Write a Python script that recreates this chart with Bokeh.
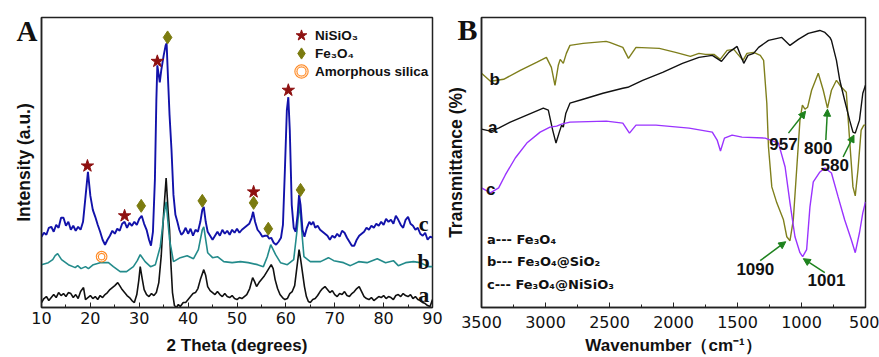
from bokeh.plotting import figure
from bokeh.layouts import row
from bokeh.models import (Range1d, SingleIntervalTicker, FixedTicker, Label, Legend,
                          LegendItem, Arrow, NormalHead)
from bokeh.embed import file_html
from bokeh.resources import INLINE

# ---------------- Panel A : XRD (2 theta, intensity a.u.) ----------------
xrd_c = [(10, 74), (10.5, 78), (11, 76), (11.5, 83), (12, 84), (12.5, 79), (13, 86), (13.5, 83),
         (14, 93), (14.5, 93), (15, 85), (15.5, 89), (16, 81), (16.5, 85), (17, 80), (17.5, 84),
         (18, 81), (18.5, 89), (19, 114), (19.5, 139), (20, 115), (20.5, 101), (21, 94), (21.5, 86),
         (22, 79), (22.5, 71), (23, 66), (23.5, 71), (24, 75), (24.5, 80), (25, 77), (25.5, 82),
         (26, 80), (26.5, 87), (27, 89), (27.5, 83), (28, 88), (28.5, 85), (29, 89), (29.5, 86),
         (30, 92), (30.5, 95), (31, 87), (31.5, 81), (32, 71), (32.4, 65), (32.8, 79), (33.2, 131),
         (33.5, 211), (33.7, 246), (34.0, 236), (34.2, 229), (34.5, 241), (35.0, 256), (35.4, 266),
         (35.6, 268), (35.9, 231), (36.2, 196), (36.6, 161), (37.0, 116), (37.4, 96), (37.8, 89),
         (38.2, 81), (38.6, 76), (39.0, 78), (39.5, 83), (40.0, 77), (40.5, 82), (41.0, 75),
         (41.5, 81), (42.0, 79), (42.5, 89), (42.9, 101), (43.2, 104), (43.6, 89), (44.0, 79),
         (44.5, 75), (45.0, 71), (45.5, 75), (46.0, 79), (46.5, 75), (47.0, 81), (47.5, 77),
         (48.0, 80), (48.5, 76), (49.0, 81), (49.5, 78), (50.0, 82), (50.5, 78), (51.0, 81),
         (51.5, 83), (52.0, 85), (52.5, 87), (53.0, 93), (53.3, 99), (53.7, 89), (54.2, 81),
         (54.7, 78), (55.2, 74), (55.7, 75), (56.2, 75), (56.6, 72), (57.0, 73), (57.5, 68),
         (58.0, 66), (58.5, 69), (59.0, 73), (59.4, 86), (59.8, 141), (60.2, 201), (60.5, 214),
         (60.8, 181), (61.2, 106), (61.6, 83), (62.0, 79), (62.4, 96), (62.7, 116), (63.0, 106),
         (63.4, 81), (63.8, 74), (64.3, 83), (64.8, 89), (65.2, 86), (65.6, 89), (66.0, 83),
         (66.5, 85), (67.0, 81), (67.5, 79), (68.0, 77), (68.5, 75), (69.0, 71), (69.5, 75),
         (70.0, 73), (70.5, 77), (71.0, 74), (71.5, 80), (72.0, 78), (72.5, 73), (73.0, 69),
         (73.5, 65), (74.0, 65), (74.5, 71), (75.0, 75), (75.5, 77), (76.0, 79), (76.5, 83),
         (77.0, 81), (77.5, 85), (78.0, 83), (78.5, 87), (79.0, 85), (79.5, 89), (80.0, 86),
         (80.5, 92), (81.0, 89), (81.5, 91), (82.0, 87), (82.5, 95), (83.0, 91), (83.5, 86),
         (84.0, 83), (84.5, 91), (85.0, 94), (85.5, 87), (86.0, 85), (86.5, 81), (87.0, 83),
         (87.5, 77), (88.0, 75), (88.5, 78), (89.0, 71), (89.5, 74), (90.0, 73)]

xrd_b = [(10, 46), (11.4, 48), (12.3, 51), (12.8, 55), (13.3, 57), (14.1, 51), (15.5, 46),
         (16.9, 43), (17.4, 45), (18.1, 42), (19, 44), (19.6, 42), (20.6, 46), (22, 48), (23.7, 48),
         (24.7, 44), (26.1, 39), (27.4, 39), (28.8, 44), (29.6, 50), (30.2, 56), (31.2, 49),
         (32.3, 44), (33.3, 46), (34.3, 64), (35, 94), (35.5, 109), (36.2, 71), (37, 49),
         (38.4, 53), (39.8, 55), (41.1, 52), (42.1, 61), (42.9, 81), (43.2, 84), (44, 58), (45, 53),
         (46, 54), (47.3, 49), (49, 48), (50.7, 49), (52.3, 48), (54.2, 46), (55.4, 44), (56.2, 54),
         (56.9, 66), (57.9, 56), (58.9, 48), (60.3, 46), (61.6, 51), (62.3, 81), (62.8, 108),
         (63.4, 71), (63.7, 54), (65, 49), (67.1, 49), (68.7, 53), (69.8, 50), (71.8, 48),
         (73.2, 45), (74.9, 49), (76.6, 48), (78.7, 52), (80.4, 48), (82, 50), (83, 45), (84.5, 48),
         (86.1, 49), (87.5, 48), (89.2, 44), (90, 44)]

xrd_a = [(10, 8), (10.5, 12), (11, 14), (11.5, 10), (12, 13), (12.5, 16), (13, 13), (13.5, 18),
         (14, 15), (14.5, 17), (15, 14), (15.5, 18), (16, 17), (16.5, 13), (17, 16), (17.5, 12),
         (18, 19), (18.6, 23), (19, 11), (19.5, 13), (20, 15), (20.5, 12), (21, 14), (21.5, 11),
         (22, 15), (22.5, 13), (23, 16), (23.5, 18), (24, 21), (24.5, 23), (25, 25), (25.6, 28),
         (26, 25), (26.5, 21), (27, 18), (27.5, 15), (28, 13), (28.5, 10), (29, 8), (29.5, 16),
         (29.9, 30), (30.2, 44), (30.6, 32), (31, 21), (31.5, 16), (32, 14), (32.5, 17), (33, 15),
         (33.5, 18), (34, 28), (34.5, 55), (35, 98), (35.5, 133), (35.9, 100), (36.2, 81),
         (36.5, 45), (36.8, 18), (37.2, 5), (37.6, 3), (38, 6), (38.4, 4), (39, 8), (39.5, 8),
         (40, 11), (40.5, 14), (41, 17), (41.5, 18), (42, 22), (42.5, 31), (43.2, 41), (43.6, 35),
         (44, 24), (44.5, 20), (45, 18), (45.5, 16), (46, 19), (46.5, 16), (47, 14), (47.5, 17),
         (48, 14), (48.5, 13), (49, 15), (49.5, 12), (50, 11), (50.5, 13), (51, 12), (51.5, 14),
         (52, 16), (52.6, 22), (53.2, 33), (53.6, 29), (54, 24), (54.5, 28), (55, 31), (55.5, 34),
         (56, 38), (56.5, 42), (57, 46), (57.4, 42), (57.8, 31), (58.3, 22), (58.8, 16), (59.3, 13),
         (59.8, 11), (60.3, 12), (60.8, 17), (61.3, 19), (61.8, 25), (62.3, 45), (62.7, 61),
         (63.0, 52), (63.4, 38), (63.8, 24), (64.2, 14), (64.6, 9), (65, 8), (65.5, 11), (66, 12),
         (66.5, 15), (67, 19), (67.5, 22), (68, 24), (68.5, 21), (69, 18), (69.5, 20), (70, 16),
         (70.5, 14), (71, 17), (71.5, 16), (72, 19), (72.5, 15), (73, 14), (73.5, 17), (74, 19),
         (74.5, 22), (75, 24), (75.5, 19), (76, 14), (76.5, 12), (77, 11), (77.5, 13), (78, 10),
         (78.5, 12), (79, 14), (79.5, 13), (80, 15), (80.5, 12), (81, 14), (81.5, 13), (82, 11),
         (82.5, 15), (83, 16), (83.5, 14), (84, 17), (84.5, 15), (85, 14), (85.5, 16), (86, 12),
         (86.5, 14), (87, 11), (87.5, 10), (88, 8), (88.5, 7), (89, 5), (89.5, 4), (90, 11)]

nisio3_theta = [19.4, 27.0, 33.7, 53.4, 60.5]
nisio3_int = [145, 95, 250, 119, 221]
fe3o4_theta = [30.4, 35.8, 42.9, 53.4, 56.4, 63.0]
fe3o4_int = [105, 274, 110, 108, 82, 121]
silica_theta = [22.3]
silica_int = [54]

# ---------------- Panel B : FTIR (wavenumber, transmittance) ----------------
ftir_a = [(3500, 176), (3430, 174), (3366, 177), (3275, 183), (3146, 190), (3017, 197), (2978, 195),
          (2944, 175), (2918, 162), (2892, 173), (2874, 180), (2861, 178), (2841, 192), (2809, 202),
          (2706, 206), (2551, 212), (2396, 217), (2357, 218), (2241, 225), (2085, 233), (1930, 242),
          (1801, 248), (1697, 250), (1625, 244), (1568, 253), (1503, 259), (1482, 252), (1451, 242),
          (1418, 250), (1374, 252), (1335, 258), (1258, 265), (1154, 268), (1090, 260), (1025, 266),
          (947, 272), (857, 275), (817, 273), (778, 268), (766, 265), (727, 245), (701, 225),
          (663, 205), (624, 185), (598, 173), (580, 172), (547, 185), (521, 212), (500, 220)]

ftir_b = [(3500, 232), (3430, 224), (3327, 226), (3197, 235), (3070, 243), (2993, 248), (2954, 238),
          (2926, 220), (2900, 240), (2885, 246), (2861, 242), (2837, 252), (2809, 260), (2706, 262),
          (2527, 264), (2499, 263), (2396, 258), (2352, 247), (2293, 258), (2111, 257), (1984, 253),
          (1868, 249), (1801, 252), (1751, 251), (1684, 251), (1635, 246), (1581, 255), (1529, 256),
          (1503, 252), (1457, 245), (1426, 252), (1374, 253), (1322, 250), (1296, 245), (1271, 202),
          (1258, 158), (1232, 118), (1193, 102), (1141, 85), (1115, 68), (1090, 64), (1064, 85),
          (1038, 135), (1012, 185), (993, 200), (973, 196), (952, 198), (921, 215), (869, 232),
          (830, 215), (797, 197), (766, 215), (727, 225), (688, 218), (650, 213), (624, 165),
          (598, 118), (580, 109), (559, 135), (534, 175), (513, 180), (500, 180)]

ftir_c = [(3500, 117), (3430, 112), (3366, 117), (3314, 130), (3236, 147), (3146, 162), (3042, 173),
          (2965, 178), (2913, 179), (2874, 181), (2809, 183), (2525, 184), (2396, 182), (2344, 172),
          (2293, 180), (2137, 180), (1878, 177), (1697, 173), (1659, 165), (1633, 154), (1602, 167),
          (1542, 170), (1465, 168), (1284, 167), (1180, 162), (1128, 138), (1090, 102), (1051, 68),
          (1012, 52), (991, 48), (960, 55), (934, 98), (908, 123), (856, 133), (817, 137), (766, 132),
          (714, 108), (663, 85), (611, 65), (580, 52), (547, 72), (521, 92), (500, 103)]

# peak annotations: text, text position, arrow start, arrow end (wavenumber, transmittance)
peak_text = ["957", "800", "580", "1090", "1001"]
peak_text_pos = [(1141, 161), (869, 157), (741, 140), (1361, 36), (805, 25)]
peak_arrow_from = [(1102, 172), (810, 165), (675, 148), (1323, 44), (818, 32)]
peak_arrow_to = [(968, 194), (797, 196), (590, 170), (1123, 63), (986, 46)]

SANS = "Liberation Sans"
TICKF = "DejaVu Sans"
SERIF = "Liberation Serif"
INK = "#111111"


def style(p, xticker, letter, letter_at, letter_size, ylabel_standoff, tick_standoff,
          label_standoff):
    p.xgrid.visible = False
    p.ygrid.visible = False
    p.outline_line_color = "#222222"
    p.outline_line_width = 1.5
    p.background_fill_color = "white"
    p.border_fill_color = "white"
    xa = p.xaxis[0]
    xa.ticker = xticker
    xa.axis_line_color = "#222222"
    xa.axis_line_width = 1.5
    xa.major_tick_in = 5
    xa.major_tick_out = 0
    xa.minor_tick_in = 3
    xa.minor_tick_out = 0
    xa.major_tick_line_color = "#222222"
    xa.minor_tick_line_color = "#222222"
    xa.major_label_text_font = TICKF
    xa.major_label_text_font_size = "16px"
    xa.major_label_text_color = INK
    xa.major_label_standoff = tick_standoff
    xa.axis_label_text_font = SANS
    xa.axis_label_text_font_style = "bold"
    xa.axis_label_text_font_size = "17px"
    xa.axis_label_text_color = INK
    xa.axis_label_standoff = label_standoff
    # the panel letter is carried by the left axis as its only tick label
    ya = p.yaxis[0]
    ya.ticker = FixedTicker(ticks=[letter_at])
    ya.major_label_overrides = {letter_at: letter}
    ya.major_label_text_font = SERIF
    ya.major_label_text_font_style = "bold"
    ya.major_label_text_font_size = letter_size
    ya.major_label_text_color = INK
    ya.major_label_standoff = 4
    ya.axis_line_color = "#222222"
    ya.axis_line_width = 1.5
    ya.major_tick_in = 0
    ya.major_tick_out = 0
    ya.minor_tick_in = 0
    ya.minor_tick_out = 0
    ya.axis_label_text_font = SANS
    ya.axis_label_text_font_style = "bold"
    ya.axis_label_text_font_size = "17.5px"
    ya.axis_label_text_color = INK
    ya.axis_label_standoff = ylabel_standoff


def clear_legend(lg):
    lg.padding = 0
    lg.margin = 0
    lg.border_line_alpha = 0
    lg.background_fill_alpha = 0
    return lg


# ---------------- figure A ----------------
pa = figure(width=443, height=357, output_backend="svg", toolbar_location=None,
            x_range=Range1d(10, 90), y_range=Range1d(3, 294),
            min_border_left=41, min_border_right=11, min_border_top=17, min_border_bottom=49,
            x_axis_label="2 Theta (degrees)", y_axis_label="Intensity (a.u.)")
style(pa, SingleIntervalTicker(interval=10, num_minor_ticks=2), "A", 280, "29px", -20, 4, 9)

for data, col, lw in ((xrd_a, INK, 1.6), (xrd_b, "#238b8b", 1.6), (xrd_c, "#1212aa", 1.9)):
    xs, ys = zip(*data)
    pa.line(list(xs), list(ys), line_color=col, line_width=lw)

r_star = pa.scatter(nisio3_theta, nisio3_int, marker="star", size=13,
                    fill_color="#8e1111", line_color="#8e1111")
r_dia = pa.scatter(fe3o4_theta, fe3o4_int, marker="diamond", size=13,
                   fill_color="#7b7b0f", line_color="#7b7b0f")
r_sil1 = pa.scatter(silica_theta, silica_int, marker="circle", size=8.5, fill_color=None,
                    line_color="#ff8a24", line_width=3.2)
r_sil2 = pa.scatter(silica_theta, silica_int, marker="circle", size=8.5, fill_color=None,
                    line_color="white", line_width=1.0)

# one legend box per row, so the rows can sit closer than the glyph box
for lab, rends, yloc in (("NiSiO₃", [r_star], 257), ("Fe₃O₄", [r_dia], 239),
                         ("Amorphous silica", [r_sil1, r_sil2], 221)):
    lg = Legend(items=[LegendItem(label=lab, renderers=rends)], location=(246, yloc),
                glyph_width=28, glyph_height=30, label_standoff=0, label_height=14,
                label_text_font=SANS, label_text_font_style="bold",
                label_text_font_size="13.5px", label_text_color=INK)
    pa.add_layout(clear_legend(lg))

for txt, yy in (("c", 87), ("b", 49), ("a", 16)):
    pa.add_layout(Label(x=88.2, y=yy, text=txt, text_font=SERIF, text_font_style="bold",
                        text_font_size="22px", text_align="center", text_baseline="alphabetic",
                        text_color=INK))

# ---------------- figure B ----------------
pb = figure(width=436, height=357, output_backend="svg", toolbar_location=None,
            x_range=Range1d(3500, 500), y_range=Range1d(-3, 288),
            min_border_left=35, min_border_right=14, min_border_top=17, min_border_bottom=49,
            x_axis_label="Wavenumber（cm⁻¹）", y_axis_label="Transmittance (%)")
style(pb, SingleIntervalTicker(interval=500, num_minor_ticks=2), "B", 276, "30px", -12, 8, 5)

for data, col in ((ftir_b, "#7f7f1c"), (ftir_a, INK), (ftir_c, "#9a33ff")):
    xs, ys = zip(*data)
    pb.line(list(xs), list(ys), line_color=col, line_width=1.4)

for txt, xx, yy in (("b", 3397, 226), ("a", 3412, 178), ("c", 3428, 115)):
    pb.add_layout(Label(x=xx, y=yy, text=txt, text_font=SANS, text_font_style="bold",
                        text_font_size="17px", text_align="center", text_baseline="alphabetic",
                        text_color=INK))

for txt, yy in (("a--- Fe₃O₄", 65), ("b--- Fe₃O₄@SiO₂", 43), ("c--- Fe₃O₄@NiSiO₃", 20)):
    pb.add_layout(Label(x=3457, y=yy, text=txt, text_font="DejaVu Sans", text_font_style="bold",
                        text_font_size="13px", text_align="left", text_baseline="alphabetic",
                        text_color=INK))

GREEN = "#1e821e"
for txt, (tx, ty), (x0, y0), (x1, y1) in zip(peak_text, peak_text_pos, peak_arrow_from, peak_arrow_to):
    pb.add_layout(Arrow(x_start=x0, y_start=y0, x_end=x1, y_end=y1, line_color=GREEN,
                        line_width=1.5,
                        end=NormalHead(size=7, fill_color=GREEN, line_color=GREEN)))
    pb.add_layout(Label(x=tx, y=ty, text=txt, text_font=SANS, text_font_style="bold",
                        text_font_size="17px", text_align="center", text_baseline="middle",
                        text_color=INK))

layout = row(pa, pb)
open("out.html", "w").write(file_html(layout, INLINE))
